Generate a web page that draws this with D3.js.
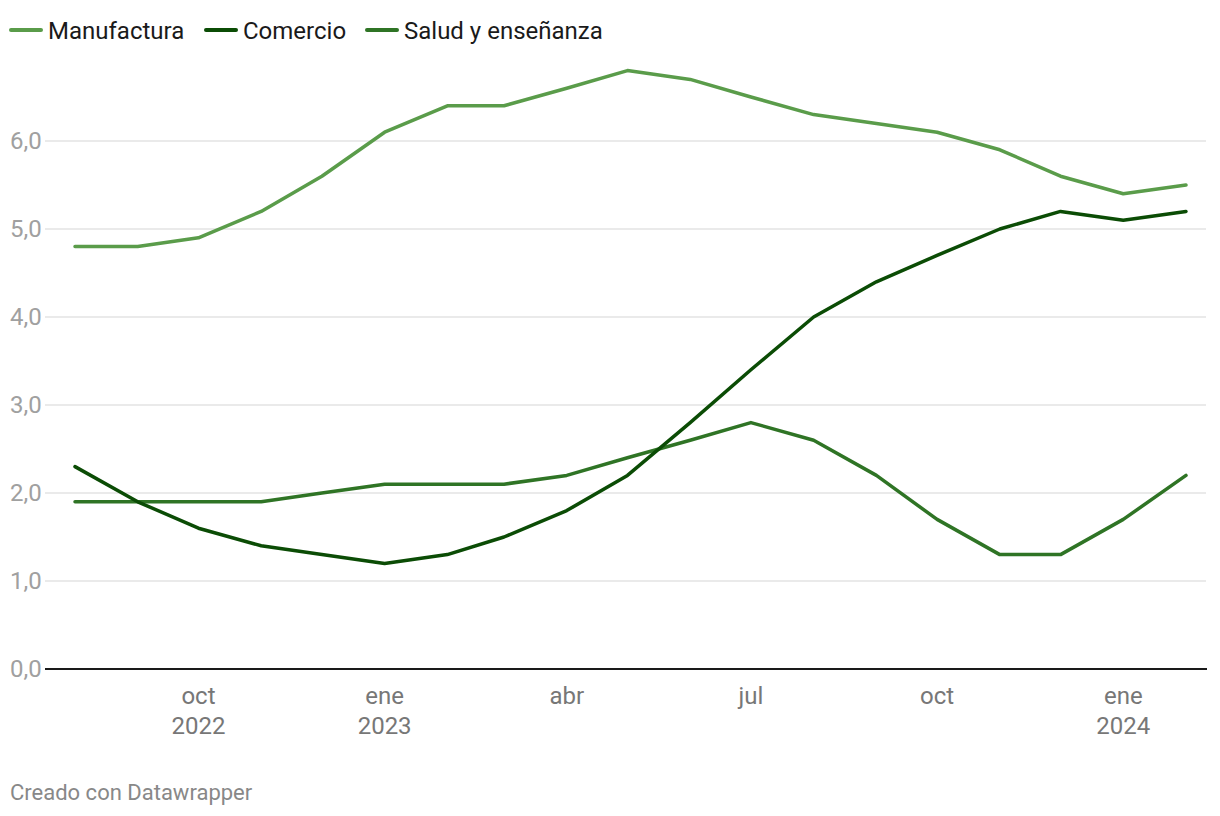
<!DOCTYPE html>
<html><head><meta charset="utf-8">
<script src="https://cdn.jsdelivr.net/npm/d3@7"></script>
<style>
html,body{margin:0;padding:0;background:#fff;}
svg{display:block;font-family:Roboto,"Noto Sans",sans-serif;}
</style></head>
<body><svg id="c" width="1220" height="816"></svg>
<script>
const months = ["2022-08","2022-09","2022-10","2022-11","2022-12","2023-01","2023-02","2023-03","2023-04","2023-05","2023-06","2023-07","2023-08","2023-09","2023-10","2023-11","2023-12","2024-01","2024-02"];
const manufactura = [4.8,4.8,4.9,5.2,5.6,6.1,6.4,6.4,6.6,6.8,6.7,6.5,6.3,6.2,6.1,5.9,5.6,5.4,5.5];
const comercio = [2.3,1.9,1.6,1.4,1.3,1.2,1.3,1.5,1.8,2.2,2.8,3.4,4.0,4.4,4.7,5.0,5.2,5.1,5.2];
const salud = [1.9,1.9,1.9,1.9,2.0,2.1,2.1,2.1,2.2,2.4,2.6,2.8,2.6,2.2,1.7,1.3,1.3,1.7,2.2];
const seriesNames = ["Manufactura","Comercio","Salud y enseñanza"];
const seriesColors = ["#5a9c4a","#0b4c05","#2f7425"];
const yTicks = [0,1,2,3,4,5,6];
const xTicks = [["2022-10","oct","2022"],["2023-01","ene","2023"],["2023-04","abr",""],["2023-07","jul",""],["2023-10","oct",""],["2024-01","ene","2024"]];

const parse = d3.timeParse("%Y-%m");
const dates = months.map(parse);
const svg = d3.select("#c");

const x = d3.scaleTime().domain([dates[0], dates[dates.length-1]]).range([75,1186]);
const y = d3.scaleLinear().domain([0,6]).range([669,141]);

// gridlines
svg.append("g").selectAll("line").data(yTicks.filter(d=>d>0)).join("line")
  .attr("x1",45).attr("x2",1206).attr("y1",d=>y(d)).attr("y2",d=>y(d))
  .attr("stroke","#e3e3e3").attr("stroke-width",1.5);

// y labels
svg.append("g").selectAll("text").data(yTicks).join("text")
  .attr("x",10).attr("y",d=>y(d)+8).attr("font-size",24).attr("fill","#a0a0a0")
  .text(d=>d3.format(".1f")(d).replace(".",","));

// baseline
svg.append("line").attr("x1",45).attr("x2",1207).attr("y1",y(0)).attr("y2",y(0))
  .attr("stroke","#1a1a1a").attr("stroke-width",2);

// x labels
const xg = svg.append("g").selectAll("g").data(xTicks).join("g")
  .attr("transform",d=>`translate(${x(parse(d[0]))},0)`);
xg.append("text").attr("y",704).attr("text-anchor","middle").attr("font-size",24).attr("fill","#777").text(d=>d[1]);
xg.append("text").attr("y",734).attr("text-anchor","middle").attr("font-size",24).attr("fill","#777").text(d=>d[2]);

// lines
const data = [manufactura, comercio, salud];
const line = d3.line().x((d,i)=>x(dates[i])).y(d=>y(d));
[2,0,1].forEach(k=>{
  svg.append("path").datum(data[k]).attr("d",line).attr("fill","none")
    .attr("stroke",seriesColors[k]).attr("stroke-width",3.5)
    .attr("stroke-linejoin","round").attr("stroke-linecap","round");
});

// legend
const legX = [10,205,366];
seriesNames.forEach((n,i)=>{
  svg.append("line").attr("x1",legX[i]+1).attr("x2",legX[i]+31).attr("y1",30).attr("y2",30)
    .attr("stroke",seriesColors[i]).attr("stroke-width",4).attr("stroke-linecap","round");
  svg.append("text").attr("x",legX[i]+38).attr("y",38.5).attr("font-size",24).attr("fill","#1a1a1a").text(n);
});

// footer
svg.append("text").attr("x",10).attr("y",800).attr("font-size",22).attr("fill","#888").text("Creado con Datawrapper");
</script></body></html>
